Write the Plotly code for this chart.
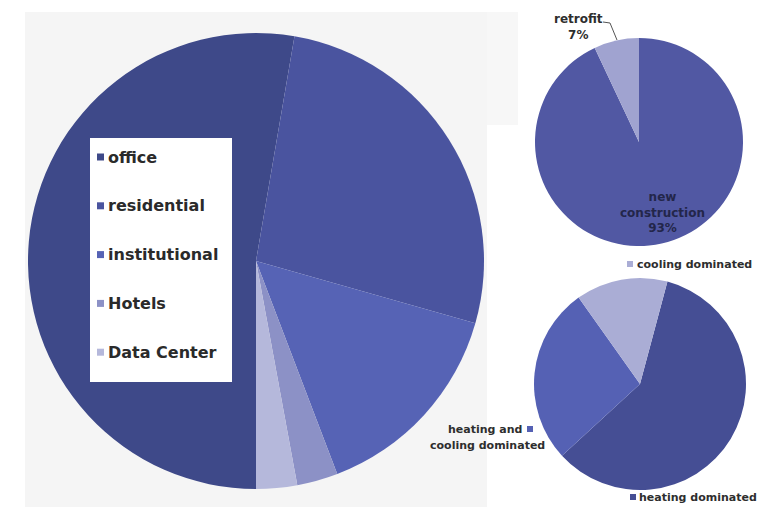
import plotly.graph_objects as go

W, H = 761, 507

# ---- data ----
sector_labels = ["office", "residential", "institutional", "Hotels", "Data Center"]
sector_values = [52.7, 26.7, 14.8, 2.9, 2.9]
sector_colors = ["#3e4989", "#4a549f", "#5663b5", "#8c91c6", "#b5b8db"]

constr_labels = ["new construction", "retrofit"]
constr_values = [93, 7]
constr_colors = ["#5158a3", "#a0a3d0"]

climate_labels = ["heating dominated", "heating and cooling dominated", "cooling dominated"]
climate_values = [59, 27, 14]
climate_colors = ["#454e94", "#5561b4", "#aaadd5"]


def px(x):
    return x / W


def py(y):
    return 1 - y / H


def dom(cx, cy, r):
    return dict(x=[px(cx - r), px(cx + r)], y=[py(cy + r), py(cy - r)])


fig = go.Figure()

fig.add_trace(go.Pie(
    labels=sector_labels, values=sector_values, sort=False,
    direction="clockwise", rotation=180,
    marker=dict(colors=sector_colors, line=dict(width=0)),
    textinfo="none", hoverinfo="label+percent", showlegend=False,
    domain=dom(256, 261, 228),
))

fig.add_trace(go.Pie(
    labels=constr_labels, values=constr_values, sort=False,
    direction="clockwise", rotation=0,
    marker=dict(colors=constr_colors, line=dict(width=0)),
    textinfo="none", hoverinfo="label+percent", showlegend=False,
    domain=dom(639, 142, 104),
))

fig.add_trace(go.Pie(
    labels=climate_labels, values=climate_values, sort=False,
    direction="clockwise", rotation=15,
    marker=dict(colors=climate_colors, line=dict(width=0)),
    textinfo="none", hoverinfo="label+percent", showlegend=False,
    domain=dom(640, 384, 106),
))

shapes = []
annotations = []

# light gray panel behind main pie
shapes.append(dict(type="rect", xref="paper", yref="paper", layer="below",
                   x0=px(25), x1=px(487), y0=py(507), y1=py(12),
                   fillcolor="#f5f5f5", line=dict(width=0)))
shapes.append(dict(type="rect", xref="paper", yref="paper", layer="below",
                   x0=px(487), x1=px(518), y0=py(125), y1=py(12),
                   fillcolor="#f7f7f7", line=dict(width=0)))

# main legend box
shapes.append(dict(type="rect", xref="paper", yref="paper",
                   x0=px(90), x1=px(232), y0=py(382), y1=py(138),
                   fillcolor="white", line=dict(width=0)))
leg_font = dict(family="DejaVu Sans", size=16, color="#2a2a2a")
for i, (lab, col) in enumerate(zip(sector_labels, sector_colors)):
    yc = 157 + i * 48.8
    shapes.append(dict(type="rect", xref="paper", yref="paper",
                       x0=px(97), x1=px(104), y0=py(yc + 3.5), y1=py(yc - 3.5),
                       fillcolor=col, line=dict(width=0)))
    annotations.append(dict(x=px(106), y=py(yc), xref="paper", yref="paper",
                            text="<b>" + lab + "</b>", showarrow=False,
                            xanchor="left", yanchor="middle", font=leg_font))

small_font = dict(family="DejaVu Sans", size=11, color="#2e2e2e")

# top pie labels
tot_c = sum(constr_values)
pct = [f"{round(100 * v / tot_c)}%" for v in constr_values]
annotations.append(dict(x=px(662), y=py(213), xref="paper", yref="paper",
                        text="<b>new<br>construction<br>" + pct[0] + "</b>",
                        showarrow=False, xanchor="center", yanchor="middle",
                        font=dict(family="DejaVu Sans", size=12, color="#23264a")))
annotations.append(dict(x=px(578), y=py(27), xref="paper", yref="paper",
                        text="<b>" + constr_labels[1] + "<br>" + pct[1] + "</b>",
                        showarrow=False, xanchor="center", yanchor="middle",
                        font=dict(family="DejaVu Sans", size=12, color="#2e2e2e")))
shapes.append(dict(type="path", xref="paper", yref="paper",
                   path=f"M {px(603)} {py(22)} L {px(610)} {py(23)} L {px(617)} {py(40)}",
                   line=dict(color="#555555", width=1)))

# bottom pie legend entries
def sq(xc, yc, col):
    shapes.append(dict(type="rect", xref="paper", yref="paper",
                       x0=px(xc - 3), x1=px(xc + 3), y0=py(yc + 3), y1=py(yc - 3),
                       fillcolor=col, line=dict(width=0)))

sq(630, 264, climate_colors[2])
annotations.append(dict(x=px(635), y=py(264), xref="paper", yref="paper",
                        text="<b>" + climate_labels[2] + "</b>", showarrow=False,
                        xanchor="left", yanchor="middle", font=small_font))
sq(633, 497, climate_colors[0])
annotations.append(dict(x=px(637), y=py(497), xref="paper", yref="paper",
                        text="<b>" + climate_labels[0] + "</b>", showarrow=False,
                        xanchor="left", yanchor="middle", font=small_font))
hc_words = climate_labels[1].split(" ")
line1 = " ".join(hc_words[:2])
line2 = " ".join(hc_words[2:])
sq(530, 429, climate_colors[1])
annotations.append(dict(x=px(524), y=py(429), xref="paper", yref="paper",
                        text="<b>" + line1 + "</b>", showarrow=False,
                        xanchor="right", yanchor="middle", font=small_font))
annotations.append(dict(x=px(547), y=py(445), xref="paper", yref="paper",
                        text="<b>" + line2 + "</b>", showarrow=False,
                        xanchor="right", yanchor="middle", font=small_font))

fig.update_layout(
    width=W, height=H, autosize=False,
    margin=dict(l=0, r=0, t=0, b=0),
    paper_bgcolor="white", plot_bgcolor="white",
    shapes=shapes, annotations=annotations,
    showlegend=False,
)

fig.write_html("out.html")
